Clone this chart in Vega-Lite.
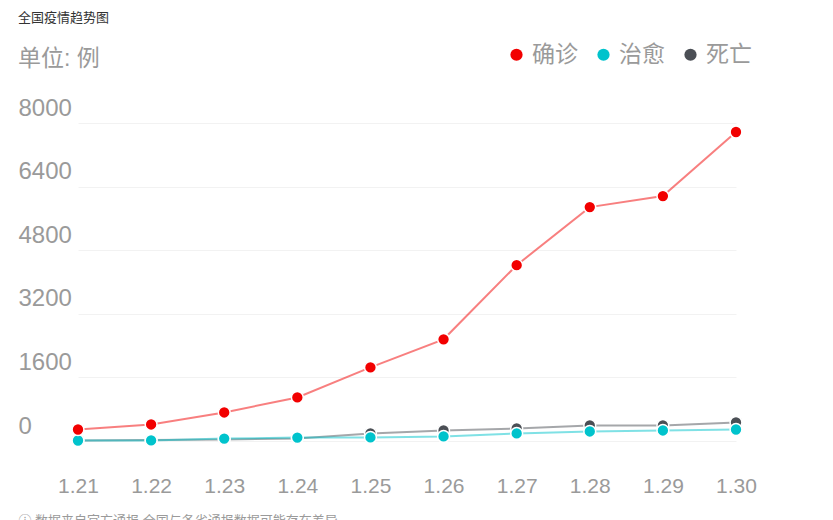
{
  "$schema": "https://vega.github.io/schema/vega-lite/v6.json",
  "width": 734,
  "height": 318,
  "autosize": {"type": "none"},
  "padding": {"left": 18, "top": 123, "right": 81, "bottom": 79},
  "background": "white",
  "config": {
    "font": "Liberation Sans, Noto Sans CJK SC, sans-serif",
    "view": {"stroke": null}
  },
  "title": {
    "text": "全国疫情趋势图",
    "subtitle": "单位: 例",
    "anchor": "start",
    "frame": "group",
    "fontSize": 13,
    "fontWeight": "normal",
    "color": "#333333",
    "subtitleFontSize": 23,
    "subtitleColor": "#9a9a9a",
    "subtitlePadding": 23,
    "offset": -28
  },
  "data": {
    "values": [
      {"date": "1.21", "series": "死亡", "value": 15},
      {"date": "1.22", "series": "死亡", "value": 25},
      {"date": "1.23", "series": "死亡", "value": 40},
      {"date": "1.24", "series": "死亡", "value": 65},
      {"date": "1.25", "series": "死亡", "value": 190},
      {"date": "1.26", "series": "死亡", "value": 265},
      {"date": "1.27", "series": "死亡", "value": 315},
      {"date": "1.28", "series": "死亡", "value": 390},
      {"date": "1.29", "series": "死亡", "value": 390},
      {"date": "1.30", "series": "死亡", "value": 465},
      {"date": "1.21", "series": "治愈", "value": 13},
      {"date": "1.22", "series": "治愈", "value": 15},
      {"date": "1.23", "series": "治愈", "value": 60},
      {"date": "1.24", "series": "治愈", "value": 85},
      {"date": "1.25", "series": "治愈", "value": 90},
      {"date": "1.26", "series": "治愈", "value": 115},
      {"date": "1.27", "series": "治愈", "value": 190},
      {"date": "1.28", "series": "治愈", "value": 240},
      {"date": "1.29", "series": "治愈", "value": 265},
      {"date": "1.30", "series": "治愈", "value": 290},
      {"date": "1.21", "series": "确诊", "value": 290},
      {"date": "1.22", "series": "确诊", "value": 416},
      {"date": "1.23", "series": "确诊", "value": 718},
      {"date": "1.24", "series": "确诊", "value": 1096},
      {"date": "1.25", "series": "确诊", "value": 1852},
      {"date": "1.26", "series": "确诊", "value": 2558},
      {"date": "1.27", "series": "确诊", "value": 4423},
      {"date": "1.28", "series": "确诊", "value": 5884},
      {"date": "1.29", "series": "确诊", "value": 6161},
      {"date": "1.30", "series": "确诊", "value": 7774}
    ]
  },
  "encoding": {
    "x": {
      "field": "date",
      "type": "ordinal",
      "sort": null,
      "scale": {"type": "point", "range": [60, 718], "padding": 0},
      "axis": {
        "labelAngle": 0,
        "labelFontSize": 21,
        "labelColor": "#9a9a9a",
        "labelPadding": 34,
        "ticks": false,
        "domain": false,
        "grid": false,
        "title": "ⓘ 数据来自官方通报 全国与各省通报数据可能存在差异",
        "titleFontSize": 13,
        "titleFontWeight": "normal",
        "titleColor": "#9a9a9a",
        "titleAnchor": "start",
        "titleAlign": "left",
        "titleBaseline": "top",
        "titleX": 0,
        "titleY": 73
      }
    },
    "y": {
      "field": "value",
      "type": "quantitative",
      "scale": {"domain": [0, 8000], "nice": false},
      "axis": {
        "values": [0, 1600, 3200, 4800, 6400, 8000],
        "format": "d",
        "title": null,
        "labelAlign": "left",
        "labelBaseline": "alphabetic",
        "labelOffset": -8,
        "labelPadding": 0,
        "labelFontSize": 24,
        "labelColor": "#9a9a9a",
        "ticks": false,
        "domain": false,
        "grid": true,
        "gridColor": "#f2f2f2",
        "gridWidth": 1
      }
    },
    "color": {
      "field": "series",
      "type": "nominal",
      "scale": {"domain": ["确诊", "治愈", "死亡"], "range": ["#f20000", "#00c3cc", "#4b4f55"]},
      "legend": {
        "orient": "none",
        "direction": "horizontal",
        "legendX": 487,
        "legendY": -80,
        "title": null,
        "symbolType": "circle",
        "symbolSize": 150,
        "symbolStrokeWidth": 0,
        "symbolOpacity": 1,
        "labelFontSize": 23,
        "labelColor": "#9a9a9a",
        "labelOffset": 4,
        "columnPadding": 14
      }
    }
  },
  "layer": [
    {
      "mark": {"type": "line", "strokeWidth": 2, "opacity": 0.5},
      "encoding": {}
    },
    {
      "mark": {"type": "point", "filled": true, "size": 140, "opacity": 1, "stroke": "white", "strokeWidth": 1.5},
      "encoding": {}
    }
  ]
}
